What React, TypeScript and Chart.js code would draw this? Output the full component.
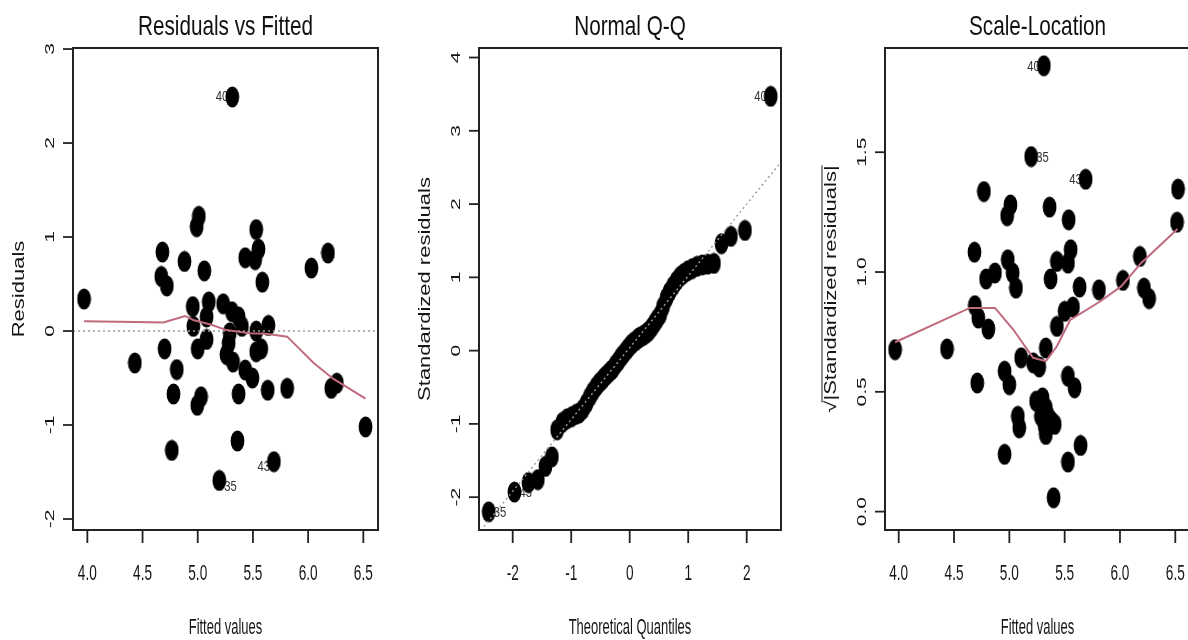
import React, { useEffect, useRef } from "react";
import { Chart, registerables } from "chart.js";

Chart.register(...registerables);

// ---------------- Residuals vs Fitted ----------------
const rvfFitted = [3.97, 4.43, 4.68, 4.67, 4.72, 4.70, 4.81, 4.78, 4.765, 4.88, 4.99, 5.01, 5.06, 4.955, 4.96, 5.00, 5.08, 5.08, 5.10, 4.996, 5.03, 5.195, 5.23, 5.31, 5.37, 5.40, 5.29, 5.28, 5.26, 5.32, 5.37, 5.36, 5.313, 5.43, 5.53, 5.55, 5.52, 5.585, 5.43, 5.495, 5.53, 5.575, 5.53, 5.64, 5.634, 5.69, 5.81, 6.03, 6.18, 6.21, 6.26, 6.52];
const rvfResiduals = [0.34, -0.34, 0.84, 0.58, 0.48, -0.19, -0.41, -0.67, -1.27, 0.74, 1.11, 1.22, 0.64, 0.26, 0.05, -0.19, -0.09, 0.15, 0.31, -0.79, -0.70, -1.59, 0.29, 0.205, 0.15, 0.05, -0.02, -0.13, -0.25, -0.33, -0.67, -1.17, 2.49, 0.78, 1.08, 0.87, 0.76, 0.52, -0.415, -0.50, -0.22, -0.19, 0.0, 0.06, -0.63, -1.39, -0.61, 0.67, 0.83, -0.61, -0.555, -1.02];
const rvfSmoothX = [3.97, 4.43, 4.69, 4.885, 4.96, 5.13, 5.26, 5.47, 5.62, 5.81, 6.05, 6.23, 6.52];
const rvfSmoothY = [0.105, 0.095, 0.09, 0.16, 0.117, 0.064, 0.01, -0.025, -0.03, -0.06, -0.34, -0.51, -0.72];
const rvfZeroX = [3.87, 6.633];
const rvfZeroY = [0, 0];
const rvfXTicks = [4.0, 4.5, 5.0, 5.5, 6.0, 6.5];
const rvfXTickLabels = ["4.0", "4.5", "5.0", "5.5", "6.0", "6.5"];
const rvfYTicks = [-2, -1, 0, 1, 2, 3];
const rvfYTickLabels = ["-2", "-1", "0", "1", "2", "3"];
const rvfIdIndex = [32, 21, 45];
const rvfIdText = ["40", "35", "43"];

// ---------------- Normal Q-Q ----------------
const qqTheoretical = [-2.41, -1.97, -1.73, -1.57, -1.44, -1.33, -1.24, -1.15, -1.07, -0.99, -0.92, -0.86, -0.80, -0.74, -0.68, -0.63, -0.57, -0.52, -0.47, -0.43, -0.38, -0.33, -0.29, -0.24, -0.19, -0.15, -0.11, -0.06, -0.02, 0.02, 0.06, 0.11, 0.15, 0.19, 0.24, 0.29, 0.33, 0.38, 0.43, 0.47, 0.52, 0.57, 0.63, 0.68, 0.74, 0.80, 0.86, 0.92, 0.99, 1.07, 1.15, 1.24, 1.33, 1.44, 1.57, 1.73, 1.97, 2.41];
const qqStdResid = [-2.20, -1.93, -1.80, -1.76, -1.58, -1.45, -1.08, -0.98, -0.93, -0.90, -0.87, -0.85, -0.80, -0.72, -0.63, -0.56, -0.49, -0.44, -0.40, -0.36, -0.32, -0.28, -0.25, -0.19, -0.14, -0.09, -0.05, 0.00, 0.04, 0.08, 0.11, 0.14, 0.17, 0.19, 0.21, 0.24, 0.27, 0.32, 0.38, 0.43, 0.49, 0.60, 0.72, 0.80, 0.88, 0.95, 1.01, 1.05, 1.09, 1.12, 1.15, 1.17, 1.18, 1.19, 1.46, 1.56, 1.64, 3.47];
const qqLineX = [-2.6, 2.6];
const qqLineY = [-2.508, 2.588];
const qqXTicks = [-2, -1, 0, 1, 2];
const qqXTickLabels = ["-2", "-1", "0", "1", "2"];
const qqYTicks = [-2, -1, 0, 1, 2, 3, 4];
const qqYTickLabels = ["-2", "-1", "0", "1", "2", "3", "4"];
const qqIdIndex = [57, 0, 1];
const qqIdText = ["40", "35", "43"];

// ---------------- Scale-Location ----------------
const slFitted = [3.967, 4.437, 4.685, 4.688, 4.72, 4.81, 4.71, 4.77, 4.79, 4.87, 4.986, 5.03, 5.06, 5.01, 4.98, 4.957, 5.0, 5.107, 4.957, 5.077, 5.09, 5.197, 5.215, 5.27, 5.33, 5.242, 5.30, 5.33, 5.286, 5.35, 5.32, 5.38, 5.41, 5.33, 5.312, 5.364, 5.373, 5.43, 5.43, 5.40, 5.536, 5.53, 5.554, 5.5, 5.575, 5.53, 5.59, 5.53, 5.644, 5.635, 5.69, 5.81, 6.027, 6.18, 6.217, 6.263, 6.525, 6.516];
const slSqrtStdResid = [0.676, 0.679, 1.083, 0.86, 0.808, 0.762, 0.537, 1.336, 0.971, 0.996, 1.051, 0.996, 0.933, 1.28, 1.235, 0.586, 0.530, 0.642, 0.239, 0.398, 0.35, 1.482, 0.621, 0.604, 0.683, 0.461, 0.475, 0.433, 0.398, 0.398, 0.357, 0.378, 0.364, 0.322, 1.861, 1.271, 0.971, 1.044, 0.773, 0.058, 1.218, 1.037, 1.093, 0.836, 0.854, 0.565, 0.517, 0.207, 0.276, 0.937, 1.387, 0.926, 0.965, 1.065, 0.933, 0.889, 1.346, 1.208];
const slSmoothX = [3.967, 4.643, 4.87, 5.035, 5.215, 5.33, 5.43, 5.55, 5.82, 6.01, 6.19, 6.52];
const slSmoothY = [0.707, 0.85, 0.85, 0.76, 0.642, 0.628, 0.69, 0.80, 0.877, 0.94, 1.037, 1.18];
const slXTicks = [4.0, 4.5, 5.0, 5.5, 6.0, 6.5];
const slXTickLabels = ["4.0", "4.5", "5.0", "5.5", "6.0", "6.5"];
const slYTicks = [0.0, 0.5, 1.0, 1.5];
const slYTickLabels = ["0.0", "0.5", "1.0", "1.5"];
const slIdIndex = [34, 21, 50];
const slIdText = ["40", "35", "43"];

// ---------------- styling ----------------
const FONT = '"Liberation Sans", Arial, Helvetica, sans-serif';
const SMOOTH_COLOR = "#c06a7d";
const REF_COLOR = "#9a9a9a";

function pts(xs: number[], ys: number[]) {
  return xs.map((x, i) => ({ x, y: ys[i] }));
}

function drawText(ctx: any, s: string, x: number, y: number, o: any) {
  ctx.save();
  ctx.translate(x, y);
  ctx.scale(o.sx, 1);
  if (o.rot) ctx.rotate(-Math.PI / 2);
  ctx.font = `${o.size}px ${FONT}`;
  ctx.textAlign = o.align || "center";
  ctx.textBaseline = o.baseline || "alphabetic";
  ctx.fillStyle = o.color || "#151515";
  ctx.fillText(s, 0, 0);
  if (o.overline) {
    const w = ctx.measureText(s).width;
    const ws = ctx.measureText("\u221A").width;
    ctx.strokeStyle = o.color || "#151515";
    ctx.lineWidth = 1.3;
    ctx.beginPath();
    ctx.moveTo(-w / 2 + ws * 0.85, -o.size * 0.86);
    ctx.lineTo(w / 2, -o.size * 0.86);
    ctx.stroke();
  }
  ctx.restore();
}

function makeDot() {
  const c = document.createElement("canvas");
  c.width = 15;
  c.height = 22;
  const g = c.getContext("2d")!;
  g.fillStyle = "#000";
  g.beginPath();
  g.ellipse(7.5, 11, 6.9, 10.6, 0, 0, Math.PI * 2);
  g.fill();
  return c;
}

function decorPlugin(cfg: any) {
  return {
    id: "rdecor",
    beforeDatasetsDraw(chart: any) {
      const { ctx, scales } = chart;
      cfg.idIndex.forEach((idx: number, k: number) => {
        const px = scales.x.getPixelForValue(cfg.px[idx]);
        const py = scales.y.getPixelForValue(cfg.py[idx]);
        const left = cfg.idSide[k] === "left";
        drawText(ctx, cfg.idText[k], left ? px - 4 : px + 5, py + cfg.idDy[k], {
          size: 15, sx: 0.75, align: left ? "right" : "left", baseline: "middle", color: "#333",
        });
      });
    },
    afterDraw(chart: any) {
      const { ctx, chartArea: a, scales } = chart;
      ctx.save();
      ctx.strokeStyle = "#222";
      ctx.lineWidth = 2;
      ctx.strokeRect(a.left, a.top, a.right - a.left, a.bottom - a.top);
      ctx.lineWidth = 1.8;
      cfg.xTicks.forEach((v: number, i: number) => {
        const px = scales.x.getPixelForValue(v);
        ctx.beginPath();
        ctx.moveTo(px, a.bottom);
        ctx.lineTo(px, a.bottom + 13);
        ctx.stroke();
        drawText(ctx, cfg.xTickLabels[i], px, a.bottom + 50, { size: 22, sx: 0.62 });
      });
      cfg.yTicks.forEach((v: number, i: number) => {
        const py = scales.y.getPixelForValue(v);
        ctx.beginPath();
        ctx.moveTo(a.left - 10, py);
        ctx.lineTo(a.left, py);
        ctx.stroke();
        drawText(ctx, cfg.yTickLabels[i], a.left - 19, py, { size: 21, sx: 0.64, rot: true });
      });
      const cx = (a.left + a.right) / 2;
      drawText(ctx, cfg.title, cx, a.top - 13, { size: 28, sx: 0.74, color: "#111" });
      drawText(ctx, cfg.xTitle, cx, a.bottom + 104, { size: 22, sx: 0.59 });
      drawText(ctx, cfg.yTitle, a.left - 49, (a.top + a.bottom) / 2, {
        size: 22, sx: 0.74, rot: true, overline: cfg.overline,
      });
      ctx.restore();
    },
  };
}

function Panel({ cfg }: { cfg: any }) {
  const ref = useRef<HTMLCanvasElement>(null);
  useEffect(() => {
    const dot = makeDot();
    const datasets: any[] = [
      {
        data: pts(cfg.px, cfg.py),
        showLine: false,
        pointStyle: dot,
        pointRadius: 10,
        order: 3,
        clip: false,
      },
      ...cfg.lines.map((l: any) => ({
        data: pts(l.x, l.y),
        showLine: true,
        pointRadius: 0,
        borderColor: l.color,
        borderWidth: l.width,
        borderDash: l.dash || [],
        fill: false,
        tension: 0,
        order: l.order,
        clip: 0,
      })),
    ];
    const chart = new Chart(ref.current!, {
      type: "scatter",
      data: { datasets },
      options: {
        responsive: false,
        animation: false,
        devicePixelRatio: 1,
        events: [],
        layout: { padding: { left: cfg.padL, right: cfg.padR, top: 48, bottom: 110 } },
        plugins: { legend: { display: false }, tooltip: { enabled: false }, title: { display: false } },
        scales: {
          x: { type: "linear", min: cfg.xMin, max: cfg.xMax, display: false },
          y: { type: "linear", min: cfg.yMin, max: cfg.yMax, display: false },
        },
      } as any,
      plugins: [decorPlugin(cfg)],
    });
    return () => chart.destroy();
  }, []);
  return (
    <canvas
      ref={ref}
      width={cfg.width}
      height={640}
      style={{ position: "absolute", left: cfg.left, top: 0, width: cfg.width, height: 640 }}
    />
  );
}

const panels = [
  {
    left: 0, width: 396, padL: 73, padR: 18,
    xMin: 3.87, xMax: 6.633, yMin: -2.117, yMax: 3.011,
    px: rvfFitted, py: rvfResiduals,
    lines: [
      { x: rvfZeroX, y: rvfZeroY, color: REF_COLOR, width: 1.4, dash: [2, 3], order: 2 },
      { x: rvfSmoothX, y: rvfSmoothY, color: SMOOTH_COLOR, width: 2, order: 1 },
    ],
    xTicks: rvfXTicks, xTickLabels: rvfXTickLabels, yTicks: rvfYTicks, yTickLabels: rvfYTickLabels,
    title: "Residuals vs Fitted", xTitle: "Fitted values", yTitle: "Residuals",
    idIndex: rvfIdIndex, idText: rvfIdText, idSide: ["left", "right", "left"], idDy: [0, 6, 5],
  },
  {
    left: 396, width: 396, padL: 83, padR: 9,
    xMin: -2.576, xMax: 2.586, yMin: -2.448, yMax: 4.13,
    px: qqTheoretical, py: qqStdResid,
    lines: [{ x: qqLineX, y: qqLineY, color: REF_COLOR, width: 1.4, dash: [2, 3], order: 1 }],
    xTicks: qqXTicks, xTickLabels: qqXTickLabels, yTicks: qqYTicks, yTickLabels: qqYTickLabels,
    title: "Normal Q-Q", xTitle: "Theoretical Quantiles", yTitle: "Standardized residuals",
    idIndex: qqIdIndex, idText: qqIdText, idSide: ["left", "right", "right"], idDy: [0, 1, 1],
  },
  {
    left: 792, width: 410, padL: 93, padR: 12,
    xMin: 3.876, xMax: 6.633, yMin: -0.0767, yMax: 1.935,
    px: slFitted, py: slSqrtStdResid,
    lines: [{ x: slSmoothX, y: slSmoothY, color: SMOOTH_COLOR, width: 2, order: 1 }],
    xTicks: slXTicks, xTickLabels: slXTickLabels, yTicks: slYTicks, yTickLabels: slYTickLabels,
    title: "Scale-Location", xTitle: "Fitted values", yTitle: "\u221A|Standardized residuals|", overline: true,
    idIndex: slIdIndex, idText: slIdText, idSide: ["left", "right", "left"], idDy: [1, 1, 1],
  },
];

export default function App() {
  return (
    <div
      style={{
        position: "absolute", left: 0, top: 0, width: 1188, height: 640,
        overflow: "hidden", background: "#fff",
      }}
    >
      {panels.map((p, i) => (
        <Panel key={i} cfg={p} />
      ))}
    </div>
  );
}
